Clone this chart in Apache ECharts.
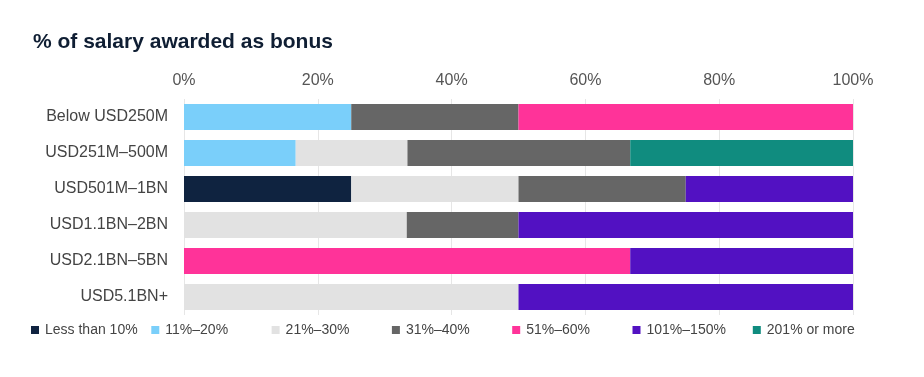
<!DOCTYPE html>
<html>
<head>
<meta charset="utf-8">
<script src="https://cdn.jsdelivr.net/npm/echarts@6/dist/echarts.min.js"></script>
<style>
  html, body { margin: 0; padding: 0; background: #fff; }
  #chart { width: 924px; height: 377px; }
</style>
</head>
<body>
<div id="chart"></div>
<script>
// bands, top to bottom
const categories = ['Below USD250M', 'USD251M–500M', 'USD501M–1BN', 'USD1.1BN–2BN', 'USD2.1BN–5BN', 'USD5.1BN+'];
const xTicks = [0, 20, 40, 60, 80, 100];

// share of respondents (%) per bonus bracket, same order as categories
const lessThan10 = [0, 0, 25, 0, 0, 0];
const from11to20 = [25, 16.7, 0, 0, 0, 0];
const from21to30 = [0, 16.7, 25, 33.3, 0, 50];
const from31to40 = [25, 33.3, 25, 16.7, 0, 0];
const from51to60 = [50, 0, 0, 0, 66.7, 0];
const from101to150 = [0, 0, 25, 50, 33.3, 50];
const over201 = [0, 33.3, 0, 0, 0, 0];

const seriesDefs = [
  { name: 'Less than 10%', data: lessThan10, color: '#0f2340' },
  { name: '11%–20%', data: from11to20, color: '#7acffa' },
  { name: '21%–30%', data: from21to30, color: '#e2e2e2' },
  { name: '31%–40%', data: from31to40, color: '#666666' },
  { name: '51%–60%', data: from51to60, color: '#ff3399' },
  { name: '101%–150%', data: from101to150, color: '#5211c2' },
  { name: '201% or more', data: over201, color: '#108c7f' }
];

// legend entries sit on a fixed 120px pitch in the original
const legends = seriesDefs.map((s, i) => ({
  left: 31 + i * 120.3,
  top: 323,
  padding: 0,
  itemWidth: 8,
  itemHeight: 8,
  itemGap: 6,
  icon: 'rect',
  textStyle: { fontSize: 14, color: '#444', padding: [0, 0, 0, 1] },
  data: [s.name]
}));

const chart = echarts.init(document.getElementById('chart'));

chart.setOption({
  animation: false,
  textStyle: { fontFamily: 'Liberation Sans, Arial, sans-serif' },
  title: {
    text: '% of salary awarded as bonus',
    left: 28,
    top: 27,
    textStyle: { fontSize: 21, fontWeight: 'bold', color: '#0f1e33' }
  },
  legend: legends,
  grid: { left: 184, right: 71, top: 99, bottom: 62 },
  xAxis: {
    type: 'value',
    position: 'top',
    min: 0,
    max: 100,
    interval: 20,
    axisLine: { show: false },
    axisTick: { show: false },
    axisLabel: {
      fontSize: 16,
      color: '#555',
      margin: 10,
      formatter: v => xTicks.includes(v) ? v + '%' : ''
    },
    splitLine: { lineStyle: { color: '#e6e6e6', width: 1 } }
  },
  yAxis: {
    type: 'category',
    inverse: true,
    data: categories,
    axisLine: { show: false },
    axisTick: { show: false },
    axisLabel: { fontSize: 16, color: '#444', margin: 16 }
  },
  series: seriesDefs.map(s => ({
    name: s.name,
    type: 'bar',
    stack: 'total',
    barWidth: 26,
    itemStyle: { color: s.color },
    data: s.data
  }))
});
</script>
</body>
</html>
